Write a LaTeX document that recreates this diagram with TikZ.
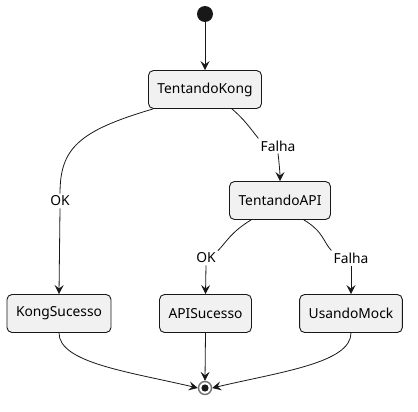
\documentclass[tikz,border=0pt]{standalone}
\usepackage{fontspec}
\setmainfont{Noto Sans}
\usetikzlibrary{arrows.meta}
\definecolor{boxfill}{HTML}{F1F1F1}
\definecolor{boxdraw}{HTML}{181818}
\begin{document}
\begin{tikzpicture}[x=1pt,y=-1pt,
  state/.style={draw=boxdraw, fill=boxfill, rounded corners=5pt, line width=0.9pt,
    minimum height=38pt, inner xsep=9pt, font=\fontsize{13.8}{16}\selectfont},
  lbl/.style={font=\fontsize{13.8}{16}\selectfont, inner sep=2pt},
  edge/.style={draw=boxdraw, line width=0.8pt},
  arr/.style={edge, -{Stealth[length=9pt,width=9pt,inset=3.5pt]}}]
\useasboundingbox (0,0) rectangle (418,412);
\node[circle, fill=boxdraw, minimum size=16pt, inner sep=0] (s) at (205,14) {};
\node[state] (k) at (205,89.5) {TentandoKong};
\node[state] (t) at (280,200.5) {TentandoAPI};
\node[state] (ks) at (59,313.5) {KongSucesso};
\node[state] (as) at (205.5,313.5) {APISucesso};
\node[state] (um) at (351,313.5) {UsandoMock};
\node[circle, draw=boxdraw!60, line width=1.4pt, fill=white, minimum size=13pt, inner sep=0] (e) at (205,388) {};
\fill[boxdraw] (e.center) circle (3.6pt);
\node[lbl] (ok1) at (60,201) {OK};
\node[lbl] (f1) at (278,146) {Falha};
\node[lbl] (ok2) at (206,258) {OK};
\node[lbl] (f2) at (351,258) {Falha};
\draw[arr] (s) -- (k);
\draw[edge] ([xshift=5pt]k.south west) .. controls +(-75,22) and +(0,-45) .. (ok1.north);
\draw[arr] (ok1.south) -- (ks.north);
\draw[edge] ([xshift=-30pt]k.south east) .. controls +(12,10) and +(-8,-10) .. (f1.north west);
\draw[arr] (f1.south) .. controls +(1,8) and +(0,-8) .. (t.north);
\draw[edge] ([xshift=22pt]t.south west) .. controls +(-20,12) and +(8,-8) .. (ok2.north east);
\draw[arr] (ok2.south) -- (as.north);
\draw[edge] ([xshift=-27pt]t.south east) .. controls +(20,12) and +(-8,-8) .. (f2.north west);
\draw[arr] (f2.south) -- (um.north);
\draw[arr] (ks.south) .. controls +(0,30) and (130,372) .. (e.west);
\draw[arr] (as.south) -- (e.north);
\draw[arr] (um.south) .. controls +(0,30) and (280,372) .. (e.east);
\end{tikzpicture}
\end{document}
